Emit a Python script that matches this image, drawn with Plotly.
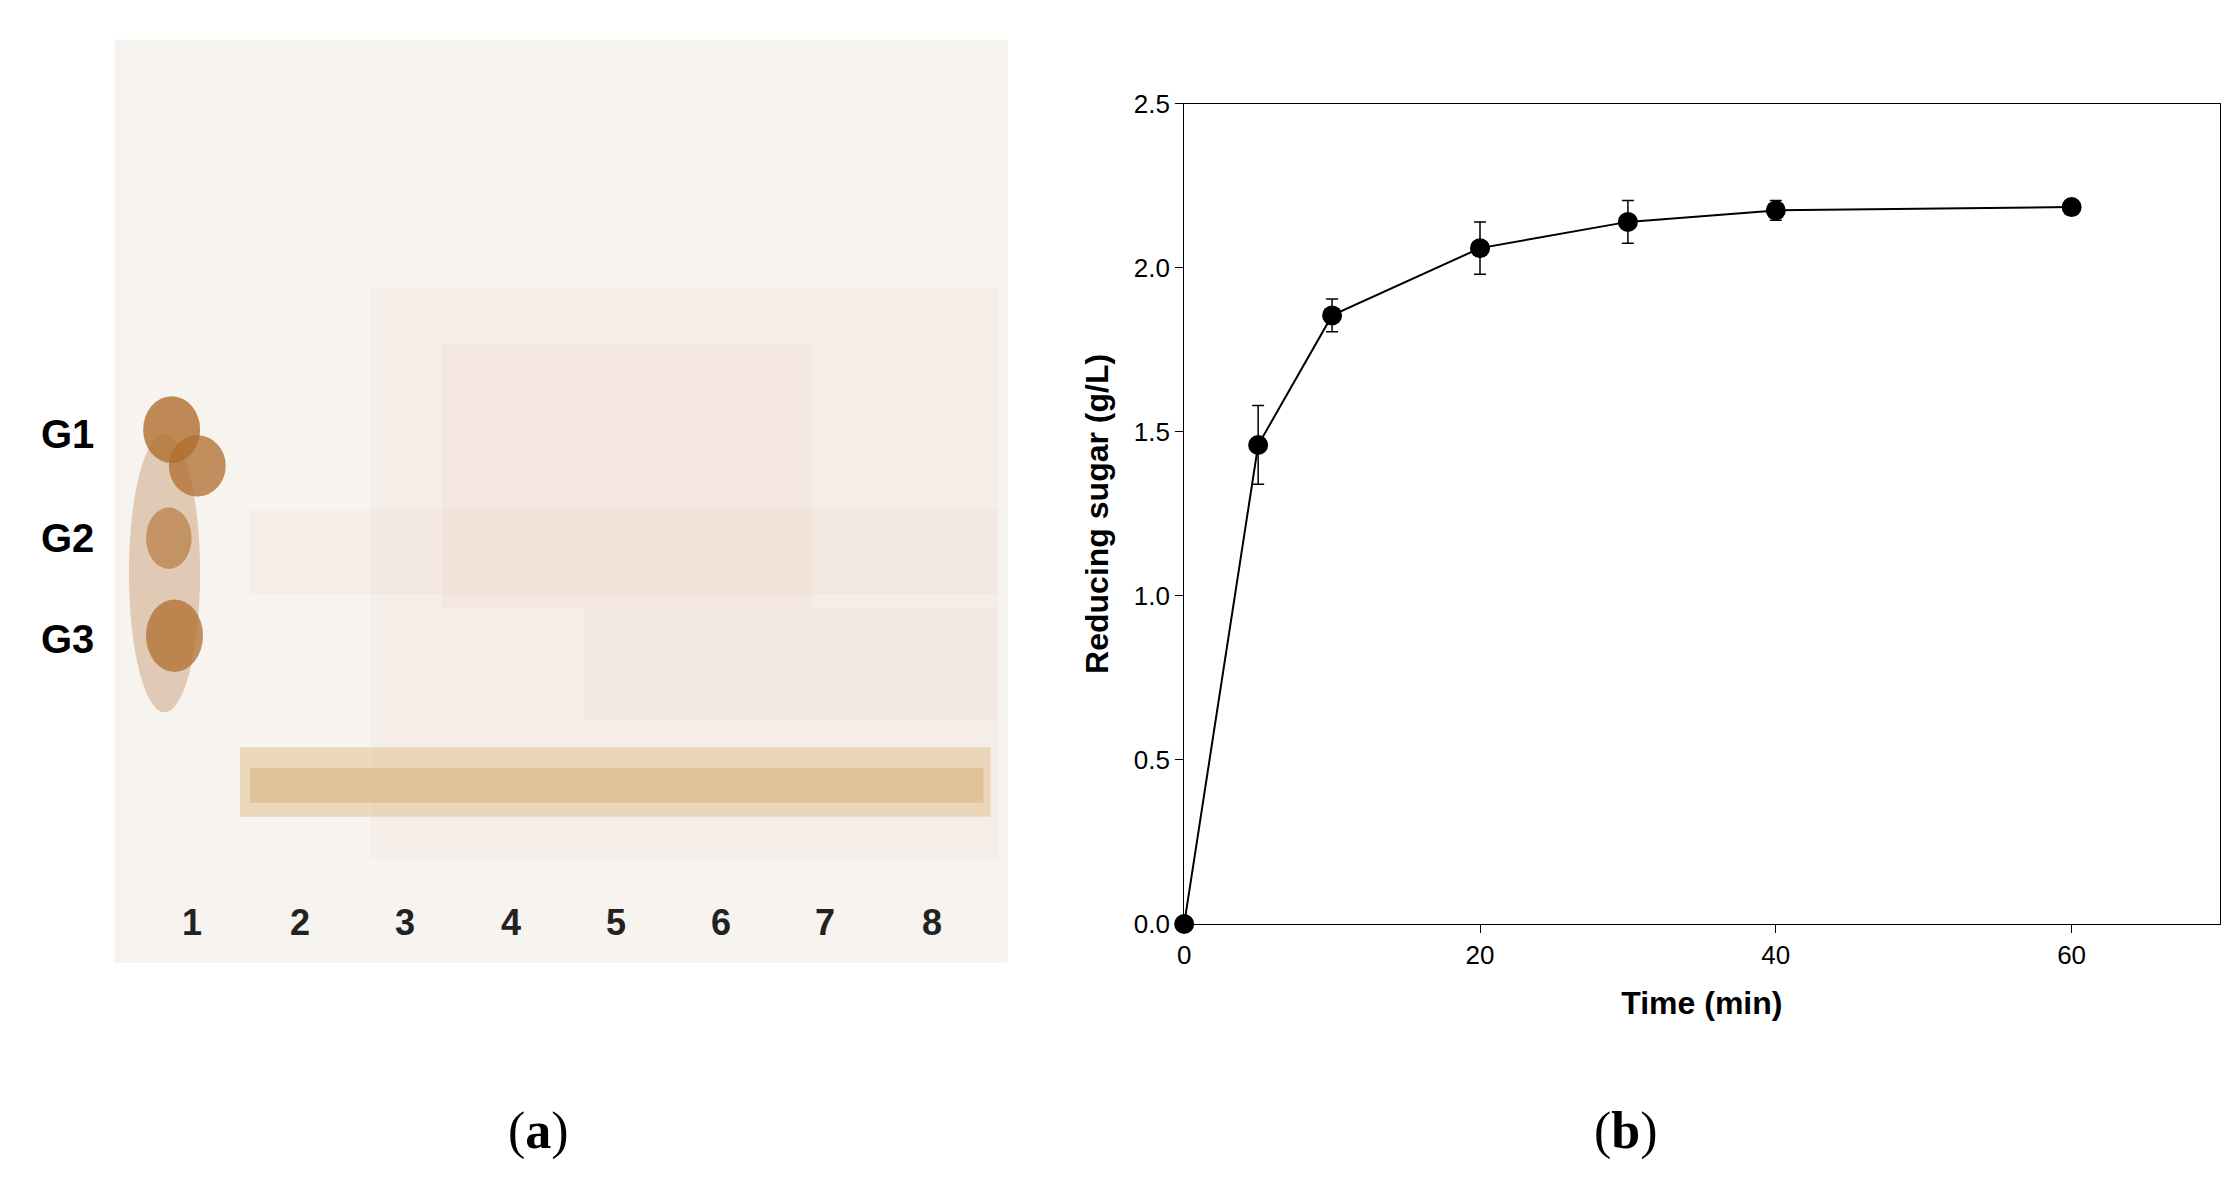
import plotly.graph_objects as go

time_min = [0, 5, 10, 20, 30, 40, 60]
sugar = [0.0, 1.46, 1.855, 2.06, 2.14, 2.175, 2.185]
sugar_err = [0.0, 0.12, 0.05, 0.08, 0.065, 0.03, 0.02]
lane_labels = ["1", "2", "3", "4", "5", "6", "7", "8"]
band_labels = ["G1", "G2", "G3"]

W, H = 2240, 1190
S = W / 1568.0
def px(x): return x * S / W
def py(y): return 1 - y * S / H

fig = go.Figure()
fig.add_trace(go.Scatter(
    x=time_min, y=sugar, mode="lines+markers",
    line=dict(color="black", width=2),
    marker=dict(color="black", size=20),
    error_y=dict(type="data", array=sugar_err, color="black", thickness=1.5, width=6),
    cliponaxis=False, showlegend=False))

shapes = []
shapes.append(dict(type="rect", xref="paper", yref="paper", x0=px(70), x1=px(697), y0=py(675), y1=py(12),
                   fillcolor="#f7f3ef", line=dict(width=0), layer="below"))
for (x0, x1, y0, y1, op) in [(250, 690, 190, 600, 0.07), (300, 560, 230, 420, 0.08), (165, 690, 350, 410, 0.07), (400, 690, 420, 500, 0.06)]:
    shapes.append(dict(type="rect", xref="paper", yref="paper", x0=px(x0), x1=px(x1), y0=py(y1), y1=py(y0),
                       fillcolor=f"rgba(230,170,140,{op})", line=dict(width=0), layer="below"))
for (cx, cy, rx, ry, op) in [(105, 395, 25, 100, 0.3), (110, 292, 20, 24, 0.8), (128, 318, 20, 22, 0.75), (108, 370, 16, 22, 0.6), (112, 440, 20, 26, 0.75)]:
    shapes.append(dict(type="circle", xref="paper", yref="paper", x0=px(cx - rx), x1=px(cx + rx), y0=py(cy + ry), y1=py(cy - ry),
                       fillcolor=f"rgba(175,110,45,{op})", line=dict(width=0), layer="below"))
shapes.append(dict(type="rect", xref="paper", yref="paper", x0=px(158), x1=px(685), y0=py(570), y1=py(520),
                   fillcolor="rgba(225,190,135,0.5)", line=dict(width=0), layer="below"))
shapes.append(dict(type="rect", xref="paper", yref="paper", x0=px(165), x1=px(680), y0=py(560), y1=py(535),
                   fillcolor="rgba(210,165,105,0.4)", line=dict(width=0), layer="below"))

ann = []
lane_x = [124, 200, 274, 348, 422, 496, 569, 644]
for lx, t in zip(lane_x, lane_labels):
    ann.append(dict(x=px(lx), y=py(646), xref="paper", yref="paper", text=f"<b>{t}</b>", showarrow=False,
                    font=dict(family="Arial", size=36, color="#222"), xanchor="center", yanchor="middle"))
for gy, t in zip([295, 370, 442], band_labels):
    ann.append(dict(x=px(37), y=py(gy), xref="paper", yref="paper", text=f"<b>{t}</b>", showarrow=False,
                    font=dict(family="Arial", size=40, color="black"), xanchor="center", yanchor="middle"))
ann.append(dict(x=px(345), y=py(818), xref="paper", yref="paper", text="(<b>a</b>)", showarrow=False,
                font=dict(family="Liberation Serif", size=52, color="black")))
ann.append(dict(x=px(1155), y=py(818), xref="paper", yref="paper", text="(<b>b</b>)", showarrow=False,
                font=dict(family="Liberation Serif", size=52, color="black")))

fig.update_layout(
    width=W, height=H, margin=dict(l=0, r=0, t=0, b=0),
    paper_bgcolor="white", plot_bgcolor="white",
    shapes=shapes, annotations=ann,
    xaxis=dict(domain=[px(821), px(1548)], range=[0, 70], tickvals=[0, 20, 40, 60],
               showgrid=False, zeroline=False, showline=True, linecolor="black", mirror=True,
               ticks="outside", ticklen=8, tickcolor="black",
               tickfont=dict(family="Arial", size=26, color="black"),
               title=dict(text="<b>Time (min)</b>", font=dict(family="Arial", size=32, color="black"), standoff=22)),
    yaxis=dict(domain=[py(647), py(58)], range=[0, 2.5], tickvals=[0, 0.5, 1, 1.5, 2, 2.5],
               ticktext=["0.0", "0.5", "1.0", "1.5", "2.0", "2.5"],
               showgrid=False, zeroline=False, showline=True, linecolor="black", mirror=True,
               ticks="outside", ticklen=8, tickcolor="black",
               tickfont=dict(family="Arial", size=26, color="black"),
               title=dict(text="<b>Reducing sugar (g/L)</b>", font=dict(family="Arial", size=32, color="black"), standoff=15)),
)
fig.write_html("out.html")
